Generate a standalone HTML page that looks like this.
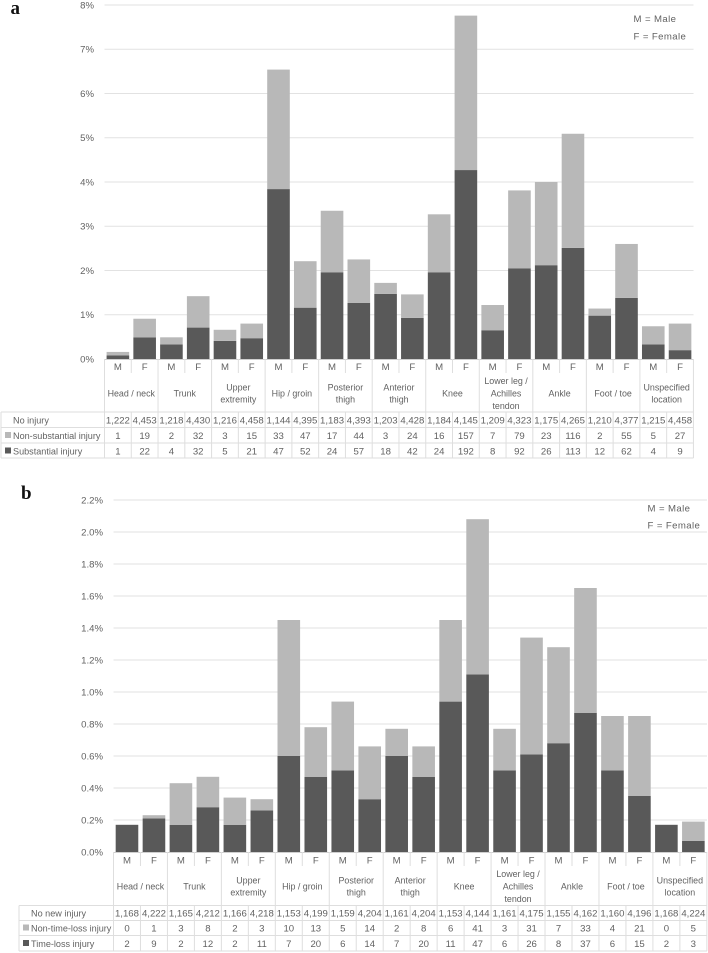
<!DOCTYPE html>
<html>
<head>
<meta charset="utf-8">
<title>Injury prevalence charts</title>
<style>
html,body{margin:0;padding:0;background:#fff;width:708px;height:953px;overflow:hidden}
svg{display:block;filter:blur(0.3px)}
text{font-family:"Liberation Sans",sans-serif;fill:#626262;font-size:9.6px}
.panel-letter{font-family:"Liberation Serif",serif;font-weight:bold;fill:#111;font-size:19px}
</style>
</head>
<body>
<svg id="figure" xmlns="http://www.w3.org/2000/svg" width="708" height="953" viewBox="0 0 708 953">
<text class="panel-letter" x="10.5" y="14">a</text>
<text class="panel-letter" x="21" y="499">b</text>
<g id="panel-a"></g>
<g id="panel-b"></g>
</svg>
<script>
const bodyParts = [["Head / neck"],["Trunk"],["Upper","extremity"],["Hip / groin"],["Posterior","thigh"],["Anterior","thigh"],["Knee"],["Lower leg /","Achilles","tendon"],["Ankle"],["Foot / toe"],["Unspecified","location"]];
const sexes = ["M","F"];

const ticksA = ["0%","1%","2%","3%","4%","5%","6%","7%","8%"];
const tickValuesA = [0,1,2,3,4,5,6,7,8];
const darkA = [0.08,0.49,0.33,0.71,0.41,0.47,3.84,1.16,1.96,1.27,1.47,0.93,1.96,4.27,0.65,2.05,2.12,2.51,0.98,1.38,0.33,0.20];
const lightA = [0.08,0.42,0.16,0.71,0.25,0.33,2.70,1.05,1.39,0.98,0.25,0.53,1.31,3.49,0.57,1.76,1.88,2.58,0.16,1.22,0.41,0.60];
const noInjuryA = ["1,222","4,453","1,218","4,430","1,216","4,458","1,144","4,395","1,183","4,393","1,203","4,428","1,184","4,145","1,209","4,323","1,175","4,265","1,210","4,377","1,215","4,458"];
const nonSubstantialA = ["1","19","2","32","3","15","33","47","17","44","3","24","16","157","7","79","23","116","2","55","5","27"];
const substantialA = ["1","22","4","32","5","21","47","52","24","57","18","42","24","192","8","92","26","113","12","62","4","9"];

const ticksB = ["0.0%","0.2%","0.4%","0.6%","0.8%","1.0%","1.2%","1.4%","1.6%","1.8%","2.0%","2.2%"];
const tickValuesB = [0,0.2,0.4,0.6,0.8,1.0,1.2,1.4,1.6,1.8,2.0,2.2];
const darkB = [0.17,0.21,0.17,0.28,0.17,0.26,0.60,0.47,0.51,0.33,0.60,0.47,0.94,1.11,0.51,0.61,0.68,0.87,0.51,0.35,0.17,0.07];
const lightB = [0,0.02,0.26,0.19,0.17,0.07,0.85,0.31,0.43,0.33,0.17,0.19,0.51,0.97,0.26,0.73,0.60,0.78,0.34,0.50,0,0.12];
const noInjuryB = ["1,168","4,222","1,165","4,212","1,166","4,218","1,153","4,199","1,159","4,204","1,161","4,204","1,153","4,144","1,161","4,175","1,155","4,162","1,160","4,196","1,168","4,224"];
const nonTimeLossB = ["0","1","3","8","2","3","10","13","5","14","2","8","6","41","3","31","7","33","4","21","0","5"];
const timeLossB = ["2","9","2","12","2","11","7","20","6","14","7","20","11","47","6","26","8","37","6","15","2","3"];

const NS = "http://www.w3.org/2000/svg";
const DARK = "#595959", LIGHT = "#b8b8b8", GRID = "#e2e2e2", TABLE = "#dedede";

function mk(parent, tag, attrs, txt) {
  const el = document.createElementNS(NS, tag);
  for (const k in attrs) el.setAttribute(k, attrs[k]);
  if (txt !== undefined) el.textContent = txt;
  parent.appendChild(el);
  return el;
}

function drawPanel(cfg) {
  const g = document.getElementById(cfg.id);
  const y = v => cfg.y0 - v * cfg.pxPerUnit;
  const x = i => cfg.x0 + i * cfg.col;

  cfg.tickValues.forEach((v, i) => {
    if (i > 0) {
      const line = mk(g, "line", {x1: cfg.x0, x2: cfg.x1, y1: y(v), y2: y(v), stroke: GRID, "stroke-width": 1});
      
      
    }
    const t = mk(g, "text", {x: cfg.tickRight, y: y(v) + 3.4, "text-anchor": "end"}, cfg.ticks[i]);
    
    
  });

  cfg.dark.forEach((d, i) => {
    const l = cfg.light[i];
    const bx = x(i) + (cfg.col - 22.6) / 2;
    const r1 = mk(g, "rect", {x: bx, y: y(d), width: 22.6, height: y(0) - y(d), fill: DARK});
    
    
    const r2 = mk(g, "rect", {x: bx, y: y(d + l), width: 22.6, height: y(d) - y(d + l), fill: LIGHT});
    
    
  });

  const T = cfg.table;
  const axis = mk(g, "line", {x1: cfg.x0, x2: cfg.x1, y1: cfg.y0 + 0.5, y2: cfg.y0 + 0.5, stroke: "#cfcfcf", "stroke-width": 1});
  
  
  T.rules.forEach(ry => {
    const rule = mk(g, "line", {x1: T.left, x2: cfg.x1, y1: ry, y2: ry, stroke: TABLE, "stroke-width": 1});
    
    
  });
  const leftEdge = mk(g, "line", {x1: T.left, x2: T.left, y1: T.rules[0], y2: T.rules[3], stroke: TABLE, "stroke-width": 1});
  
  

  for (let i = 0; i <= bodyParts.length; i++) {
    const vx = x(i * 2);
    const sep = mk(g, "line", {x1: vx, x2: vx, y1: cfg.y0, y2: T.rules[3], stroke: TABLE, "stroke-width": 1});
    
    
  }
  for (let i = 0; i < bodyParts.length; i++) {
    const vx = x(i * 2 + 1);
    const tick = mk(g, "line", {x1: vx, x2: vx, y1: cfg.y0, y2: cfg.y0 + 14, stroke: TABLE, "stroke-width": 1});
    
    
    const inner = mk(g, "line", {x1: vx, x2: vx, y1: T.rules[0], y2: T.rules[3], stroke: TABLE, "stroke-width": 1});
    
    
  }

  for (let i = 0; i < bodyParts.length * 2; i++) {
    const s = mk(g, "text", {x: x(i) + cfg.col / 2, y: T.sexY, "text-anchor": "middle"}, sexes[i % 2]);
    
    
  }

  bodyParts.forEach((lines, i) => {
    const cx = x(i * 2) + cfg.col;
    lines.forEach((ln, j) => {
      const ty = T.catY + (j - (lines.length - 1) / 2) * 12.4;
      const c = mk(g, "text", {x: cx, y: ty, "text-anchor": "middle", style: "font-size:8.9px"}, ln);
      
      
    });
  });

  cfg.rows.forEach((row, r) => {
    const ty = T.rowY[r];
    const lab = mk(g, "text", {x: T.labelX, y: ty, style: "font-size:9.1px"}, row.label);
    
    
    if (row.swatch) {
      const sw = mk(g, "rect", {x: T.labelX - 8, y: ty - 7, width: 6, height: 6, fill: row.swatch});
      
      
    }
    row.values.forEach((v, i) => {
      const cell = mk(g, "text", {x: x(i) + cfg.col / 2, y: ty, "text-anchor": "middle"}, v);
      
      
    });
  });

  cfg.key.forEach((k, i) => {
    const t = mk(g, "text", {x: cfg.keyX, y: cfg.keyY[i], "letter-spacing": "0.4"}, k);
    
    
  });
}

drawPanel({
  id: "panel-a", x0: 104.5, x1: 693.5, col: 26.77, y0: 359, pxPerUnit: 44.25, tickRight: 94,
  ticks: ticksA, tickValues: tickValuesA, dark: darkA, light: lightA,
  table: {left: 1, rules: [412, 427.5, 443, 458], sexY: 370, catY: 396.5, rowY: [423.5, 439, 454.5], labelX: 13},
  rows: [
    {label: "No injury", values: noInjuryA},
    {label: "Non-substantial injury", values: nonSubstantialA, swatch: LIGHT},
    {label: "Substantial injury", values: substantialA, swatch: DARK}
  ],
  key: ["M = Male", "F = Female"], keyX: 633.5, keyY: [22, 39.5]
});

drawPanel({
  id: "panel-b", x0: 113.5, x1: 707, col: 26.97, y0: 852, pxPerUnit: 160, tickRight: 103,
  ticks: ticksB, tickValues: tickValuesB, dark: darkB, light: lightB,
  table: {left: 19, rules: [905.5, 920.5, 935.5, 951], sexY: 863.5, catY: 889.5, rowY: [916.5, 931.5, 947], labelX: 31},
  rows: [
    {label: "No new injury", values: noInjuryB},
    {label: "Non-time-loss injury", values: nonTimeLossB, swatch: LIGHT},
    {label: "Time-loss injury", values: timeLossB, swatch: DARK}
  ],
  key: ["M = Male", "F = Female"], keyX: 647.5, keyY: [511.5, 528.5]
});
</script>
</body>
</html>
